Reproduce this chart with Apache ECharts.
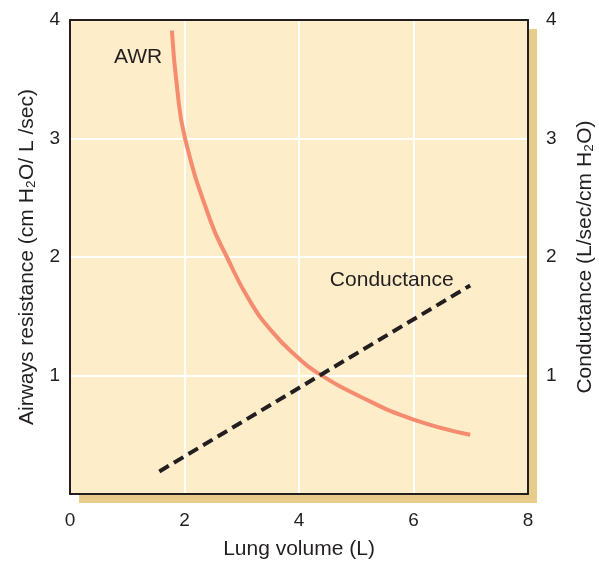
<!DOCTYPE html>
<html>
<head>
<meta charset="utf-8">
<script src="https://cdn.jsdelivr.net/npm/echarts@6/dist/echarts.min.js"></script>
<style>
  html, body { margin: 0; padding: 0; background: #fff; }
  #chart { width: 599px; height: 561px; }
</style>
</head>
<body>
<div id="chart"></div>
<script>
// lung volume (L) vs airway resistance
var awrPoints = [
  [1.78, 3.91], [1.87, 3.43], [2.01, 3.00], [2.45, 2.31],
  [2.74, 2.00], [3.14, 1.63], [3.53, 1.37], [3.96, 1.16], [4.33, 1.02],
  [5.12, 0.81], [5.99, 0.63], [6.99, 0.50]
];
// lung volume (L) vs conductance
var conductancePoints = [[1.56, 0.19], [6.99, 1.76]];
var xTicks = [0, 2, 4, 6, 8];
var yTicks = [0, 1, 2, 3, 4];
var awrLabelAt = [1.19, 3.69];
var condLabelAt = [5.62, 1.80];

var ink = '#231f20';
var font = 'Liberation Sans, Arial, sans-serif';
var frameLine = { show: true, onZero: false, lineStyle: { color: ink, width: 2 } };

var yAxisBase = function(pos, name, gap){
  return {
    type: 'value',
    position: pos,
    min: yTicks[0],
    max: yTicks[yTicks.length - 1],
    interval: 1,
    name: name,
    nameLocation: 'middle',
    nameRotate: 90,
    nameGap: gap,
    nameTextStyle: { color: ink, fontSize: 21, fontFamily: font },
    axisLine: frameLine,
    axisTick: { show: false },
    splitLine: { show: pos === 'left', lineStyle: { color: '#ffffff', width: 2 } },
    axisLabel: {
      color: ink, fontSize: 19, fontFamily: font,
      margin: pos === 'left' ? 10 : 18,
      formatter: function(v){ return v === 0 ? '' : String(v); }
    }
  };
};

var chart = echarts.init(document.getElementById('chart'));
chart.setOption({
  animation: false,
  grid: {
    left: 70, right: 71, top: 20, bottom: 67,
    outerBoundsMode: 'none',
    containLabel: false,
    show: true,
    backgroundColor: '#fdedc9',
    borderWidth: 0,
    shadowColor: '#e8cc8a',
    shadowBlur: 0,
    shadowOffsetX: 9,
    shadowOffsetY: 9
  },
  xAxis: [
    {
      type: 'value',
      min: xTicks[0],
      max: xTicks[xTicks.length - 1],
      interval: 2,
      name: 'Lung volume (L)',
      nameLocation: 'middle',
      nameGap: 45,
      nameTextStyle: { color: ink, fontSize: 21, fontFamily: font },
      axisLine: frameLine,
      axisTick: { show: false },
      splitLine: { show: true, lineStyle: { color: '#ffffff', width: 2 } },
      axisLabel: { color: ink, fontSize: 19, fontFamily: font, margin: 17 }
    },
    {
      // top frame line only
      type: 'value',
      position: 'top',
      min: xTicks[0],
      max: xTicks[xTicks.length - 1],
      axisLine: frameLine,
      axisTick: { show: false },
      axisLabel: { show: false },
      splitLine: { show: false }
    }
  ],
  yAxis: [
    yAxisBase('left', 'Airways resistance (cm H\u2082O/ L /sec)', 32),
    yAxisBase('right', 'Conductance (L/sec/cm H\u2082O)', 47)
  ],
  series: [
    {
      name: 'AWR',
      type: 'line',
      data: awrPoints,
      smooth: 0.5,
      symbol: 'none',
      yAxisIndex: 0,
      lineStyle: { color: '#f58b6f', width: 4 },
      markPoint: {
        symbol: 'circle', symbolSize: 0,
        label: { show: true, position: 'inside', formatter: 'AWR', color: ink, fontSize: 21, fontFamily: font },
        data: [{ coord: awrLabelAt }]
      }
    },
    {
      name: 'Conductance',
      type: 'line',
      data: conductancePoints,
      symbol: 'none',
      yAxisIndex: 1,
      lineStyle: { color: ink, width: 4, type: [11, 6], cap: 'butt' },
      markPoint: {
        symbol: 'circle', symbolSize: 0,
        label: { show: true, position: 'inside', formatter: 'Conductance', color: ink, fontSize: 21, fontFamily: font },
        data: [{ coord: condLabelAt }]
      }
    }
  ]
});
</script>
</body>
</html>
